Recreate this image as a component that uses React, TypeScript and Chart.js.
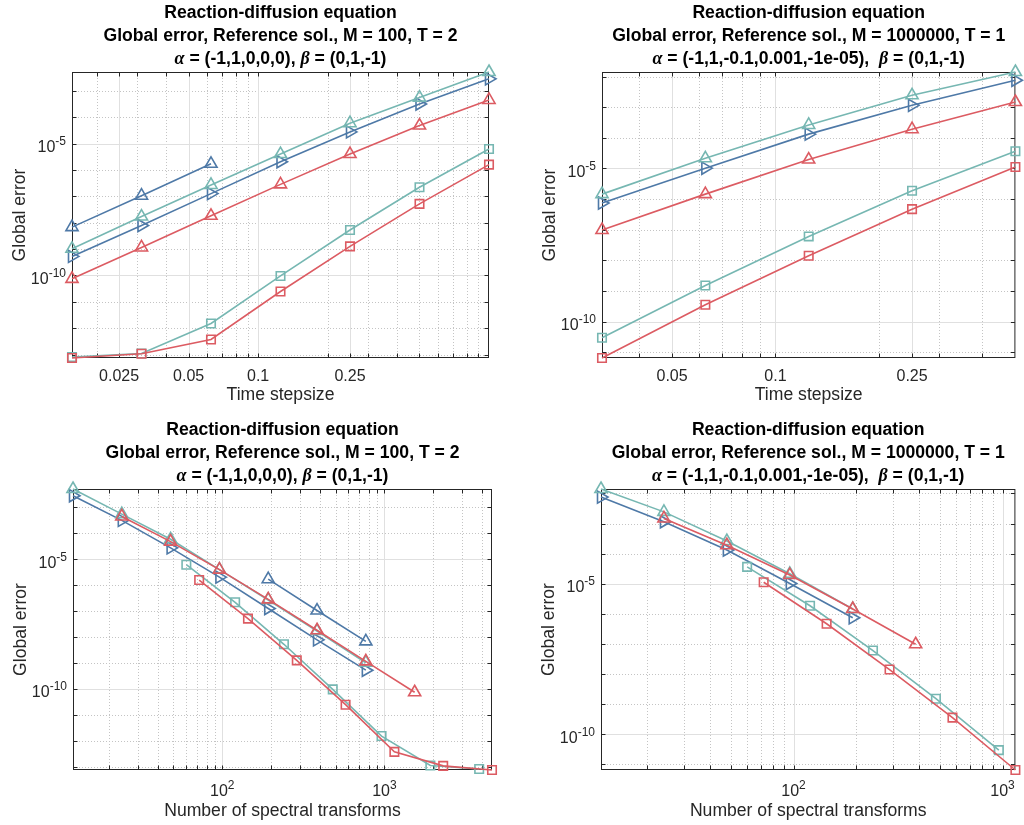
import React, { useEffect, useRef } from 'react';
import { Chart, registerables } from 'chart.js';

Chart.register(...registerables);

// ---------------- data ----------------
// time step sizes
const dtM100 = [0.015625, 0.03125, 0.0625, 0.125, 0.25, 0.5, 1];
const dtM100Short = [0.015625, 0.03125, 0.0625];
const dtM1e6 = [0.03125, 0.0625, 0.125, 0.25, 0.5];

// global errors, M = 100, T = 2 (ordered like dtM100)
const errM100TealTri = [1.02e-9, 1.7e-8, 2.69e-7, 3.98e-6, 5.89e-5, 5.5e-4, 5.13e-3];
const errM100BlueRight = [5.25e-10, 7.76e-9, 1.26e-7, 2.04e-6, 2.75e-5, 3.16e-4, 2.82e-3];
const errM100RedTri = [7.41e-11, 1.15e-9, 1.82e-8, 2.82e-7, 3.98e-6, 4.79e-5, 4.47e-4];
const errM100BlueUp = [6.76e-9, 1.05e-7, 1.7e-6];
const errM100TealSq = [8.13e-14, 1.1e-13, 1.51e-12, 9.55e-11, 5.25e-9, 2.19e-7, 6.17e-6];
const errM100RedSq = [7.41e-14, 1.07e-13, 3.72e-13, 2.45e-11, 1.26e-9, 5.13e-8, 1.58e-6];

// global errors, M = 1000000, T = 1 (ordered like dtM1e6)
const errM1e6TealTri = [1.45e-6, 2.14e-5, 2.63e-4, 2.45e-3, 1.41e-2];
const errM1e6BlueRight = [7.41e-7, 1.02e-5, 1.32e-4, 1.15e-3, 7.59e-3];
const errM1e6RedTri = [9.77e-8, 1.45e-6, 1.95e-5, 1.91e-4, 1.48e-3];
const errM1e6TealSq = [2.95e-11, 1.51e-9, 6.03e-8, 1.86e-6, 3.63e-5];
const errM1e6RedSq = [6.46e-12, 3.55e-10, 1.41e-8, 4.68e-7, 1.12e-5];

// number of spectral transforms, M = 100 (same order as the errors)
const nM100TealTri = [768, 384, 192, 96, 48, 24, 12];
const nM100BlueRight = [768, 384, 192, 96, 48, 24, 12];
const nM100RedTri = [1536, 768, 384, 192, 96, 48, 24];
const nM100BlueUp = [768, 384, 192];
const nM100TealSq = [3840, 1920, 960, 480, 240, 120, 60];
const nM100RedSq = [4608, 2304, 1152, 576, 288, 144, 72];

// number of spectral transforms, M = 1000000
const nM1e6TealTri = [192, 96, 48, 24, 12];
const nM1e6BlueRight = [192, 96, 48, 24, 12];
const nM1e6RedTri = [384, 192, 96, 48, 24];
const nM1e6TealSq = [960, 480, 240, 120, 60];
const nM1e6RedSq = [1152, 576, 288, 144, 72];

// tick labels
const dtTickValuesM100 = [0.025, 0.05, 0.1, 0.25];
const dtTickLabelsM100 = ['0.025', '0.05', '0.1', '0.25'];
const dtTickValuesM1e6 = [0.05, 0.1, 0.25];
const dtTickLabelsM1e6 = ['0.05', '0.1', '0.25'];
const errTickValues = [1e-10, 1e-5];
const errTickExps = ['-10', '-5'];
const nTickValues = [100, 1000];
const nTickExps = ['2', '3'];

// texts
const titleLine1 = 'Reaction-diffusion equation';
const titleLine2M100 = 'Global error, Reference sol., M = 100, T = 2';
const titleLine2M1e6 = 'Global error, Reference sol., M = 1000000, T = 1';
const alphaM100 = ' = (-1,1,0,0,0), ';
const alphaM1e6 = ' = (-1,1,-0.1,0.001,-1e-05),  ';
const betaText = ' = (0,1,-1)';
const xLabelDt = 'Time stepsize';
const xLabelN = 'Number of spectral transforms';
const yLabel = 'Global error';

// ---------------- styles ----------------
const TEAL = '#76b7b2';
const RED = '#dc5b62';
const BLUE = '#4e79a7';
const SANS = '"Liberation Sans", Arial, Helvetica, sans-serif';
const SERIF = '"Liberation Serif", "Times New Roman", serif';
const INK = '#262626';

type Marker = 'tri' | 'right' | 'square';
interface Series { xs: number[]; ys: number[]; color: string; marker: Marker }
interface Tick { value: number; label?: string; exp?: string }
interface PanelSpec {
  left: number; top: number; w: number; h: number;
  pad: { left: number; top: number; right: number; bottom: number };
  series: Series[];
  xTicks: Tick[]; yTicks: Tick[];
  xLabel: string; xLabelOffset: number;
  line2: string; alphaText: string;
}

function makeDataset(s: Series) {
  const isTri = s.marker !== 'square';
  return {
    data: s.xs.map((x, i) => ({ x, y: s.ys[i] })),
    showLine: true,
    borderColor: s.color,
    backgroundColor: 'rgba(0,0,0,0)',
    borderWidth: 1.6,
    pointStyle: isTri ? 'triangle' : 'rect',
    pointRotation: s.marker === 'right' ? 90 : 0,
    pointRadius: isTri ? 7 : 6,
    pointBorderWidth: 1.6,
    pointBorderColor: s.color,
    pointBackgroundColor: 'rgba(0,0,0,0)',
    clip: false as any,
    tension: 0,
  };
}

function minorValues(min: number, max: number, full: boolean): number[] {
  const out: number[] = [];
  const ks = full ? [1, 2, 3, 4, 5, 6, 7, 8, 9] : [1];
  for (let e = Math.floor(Math.log10(min)); e <= Math.ceil(Math.log10(max)); e++) {
    for (const k of ks) {
      const v = k * Math.pow(10, e);
      if (v >= min * (1 - 1e-9) && v <= max * (1 + 1e-9)) out.push(v);
    }
  }
  return out;
}

function drawPow(ctx: CanvasRenderingContext2D, exp: string, x: number, yBase: number, align: 'center' | 'right') {
  ctx.font = `16px ${SANS}`;
  const wb = ctx.measureText('10').width;
  ctx.font = `12px ${SANS}`;
  const we = ctx.measureText(exp).width;
  const total = wb + we;
  const sx = align === 'center' ? x - total / 2 : x - total;
  ctx.textAlign = 'left';
  ctx.textBaseline = 'alphabetic';
  ctx.font = `16px ${SANS}`;
  ctx.fillText('10', sx, yBase);
  ctx.font = `12px ${SANS}`;
  ctx.fillText(exp, sx + wb, yBase - 7);
}

function axesPlugin(p: PanelSpec) {
  return {
    id: 'matlabAxes',
    beforeDatasetsDraw(chart: any) {
      const ctx: CanvasRenderingContext2D = chart.ctx;
      const { left: L, right: R, top: T, bottom: B } = chart.chartArea;
      const sx = chart.scales.x;
      const sy = chart.scales.y;
      const xMaj = p.xTicks.map((t) => t.value);
      const yMaj = p.yTicks.map((t) => t.value);
      const notMajor = (arr: number[]) => (v: number) => !arr.some((m) => Math.abs(m - v) / m < 1e-6);
      const xMin = minorValues(sx.min, sx.max, true).filter(notMajor(xMaj));
      const yMin = minorValues(sy.min, sy.max, false).filter(notMajor(yMaj));
      const xp = (v: number) => Math.round(sx.getPixelForValue(v)) + 0.5;
      const yp = (v: number) => Math.round(sy.getPixelForValue(v)) + 0.5;
      ctx.save();
      ctx.lineWidth = 1;
      // minor dotted grid
      ctx.strokeStyle = '#c4c4c4';
      ctx.setLineDash([1, 2]);
      ctx.beginPath();
      for (const v of xMin) {
        const px = xp(v);
        if (px <= L + 1.5 || px >= R - 1.5) continue;
        ctx.moveTo(px, T); ctx.lineTo(px, B);
      }
      for (const v of yMin) {
        const py = yp(v);
        if (py <= T + 1.5 || py >= B - 1.5) continue;
        ctx.moveTo(L, py); ctx.lineTo(R, py);
      }
      ctx.stroke();
      // major solid grid
      ctx.setLineDash([]);
      ctx.strokeStyle = '#e0e0e0';
      ctx.beginPath();
      for (const v of xMaj) { const px = xp(v); ctx.moveTo(px, T); ctx.lineTo(px, B); }
      for (const v of yMaj) { const py = yp(v); ctx.moveTo(L, py); ctx.lineTo(R, py); }
      ctx.stroke();
      // ticks
      ctx.strokeStyle = INK;
      ctx.beginPath();
      for (const v of [...xMaj, ...xMin]) {
        const px = xp(v);
        if (px <= L + 1 || px >= R - 1) continue;
        ctx.moveTo(px, B - 0.5); ctx.lineTo(px, B - 4.5);
        ctx.moveTo(px, T + 0.5); ctx.lineTo(px, T + 4.5);
      }
      for (const v of [...yMaj, ...yMin]) {
        const py = yp(v);
        if (py <= T + 1 || py >= B - 1) continue;
        ctx.moveTo(L + 0.5, py); ctx.lineTo(L + 4.5, py);
        ctx.moveTo(R - 0.5, py); ctx.lineTo(R - 4.5, py);
      }
      ctx.stroke();
      // box
      ctx.strokeRect(L + 0.5, T + 0.5, R - L - 1, B - T - 1);
      ctx.restore();
    },
    afterDraw(chart: any) {
      const ctx: CanvasRenderingContext2D = chart.ctx;
      const { left: L, right: R, top: T, bottom: B } = chart.chartArea;
      const sx = chart.scales.x;
      const sy = chart.scales.y;
      ctx.save();
      ctx.fillStyle = INK;
      // x tick labels
      for (const t of p.xTicks) {
        const px = sx.getPixelForValue(t.value);
        if (t.exp) {
          drawPow(ctx, t.exp, px, B + 26, 'center');
        } else {
          ctx.font = `16px ${SANS}`;
          ctx.textAlign = 'center';
          ctx.textBaseline = 'alphabetic';
          ctx.fillText(t.label || '', px, B + 23);
        }
      }
      // y tick labels
      for (const t of p.yTicks) {
        const py = sy.getPixelForValue(t.value);
        drawPow(ctx, t.exp || '', L - 6, py + 8.5, 'right');
      }
      // axis labels
      ctx.font = `17.6px ${SANS}`;
      ctx.textAlign = 'center';
      ctx.textBaseline = 'alphabetic';
      ctx.fillText(p.xLabel, (L + R) / 2, B + p.xLabelOffset);
      ctx.save();
      ctx.translate(L - 47.5, (T + B) / 2);
      ctx.rotate(-Math.PI / 2);
      ctx.fillText(yLabel, 0, 0);
      ctx.restore();
      // title
      const cx = (L + R) / 2;
      ctx.fillStyle = '#000';
      ctx.textBaseline = 'middle';
      ctx.textAlign = 'center';
      ctx.font = `bold 17.6px ${SANS}`;
      ctx.fillText(titleLine1, cx, T - 59);
      ctx.fillText(p.line2, cx, T - 36);
      const segs: [string, string][] = [
        ['\u03b1', `italic bold 18px ${SERIF}`],
        [p.alphaText, `bold 17.6px ${SANS}`],
        ['\u03b2', `italic bold 18px ${SERIF}`],
        [betaText, `bold 17.6px ${SANS}`],
      ];
      let total = 0;
      const widths = segs.map(([s, f]) => { ctx.font = f; const w = ctx.measureText(s).width; total += w; return w; });
      let x = cx - total / 2;
      ctx.textAlign = 'left';
      segs.forEach(([s, f], i) => {
        ctx.font = f;
        ctx.fillText(s, x, T - 13);
        x += widths[i];
      });
      ctx.restore();
    },
  };
}

function Panel({ spec }: { spec: PanelSpec }) {
  const ref = useRef<HTMLCanvasElement>(null);
  useEffect(() => {
    const allX = spec.series.flatMap((s) => s.xs);
    const allY = spec.series.flatMap((s) => s.ys);
    const chart = new Chart(ref.current as HTMLCanvasElement, {
      type: 'scatter',
      data: { datasets: spec.series.map(makeDataset) as any },
      options: {
        animation: false,
        responsive: false,
        maintainAspectRatio: false,
        events: [],
        layout: { padding: spec.pad },
        plugins: { legend: { display: false }, title: { display: false }, tooltip: { enabled: false } },
        scales: {
          x: { type: 'logarithmic', display: false, bounds: 'data', min: Math.min(...allX), max: Math.max(...allX) },
          y: { type: 'logarithmic', display: false, bounds: 'data', min: Math.min(...allY), max: Math.max(...allY) },
        },
      } as any,
      plugins: [axesPlugin(spec) as any],
    });
    return () => chart.destroy();
  }, [spec]);
  return (
    <canvas
      ref={ref}
      width={spec.w}
      height={spec.h}
      style={{ position: 'absolute', left: spec.left, top: spec.top, width: spec.w, height: spec.h }}
    />
  );
}

const yTicksErr: Tick[] = errTickValues.map((v, i) => ({ value: v, exp: errTickExps[i] }));
const xTicksN: Tick[] = nTickValues.map((v, i) => ({ value: v, exp: nTickExps[i] }));

const panels: PanelSpec[] = [
  {
    left: 0, top: 0, w: 512, h: 412,
    pad: { left: 72, top: 72, right: 23, bottom: 54 },
    series: [
      { xs: dtM100, ys: errM100RedSq, color: RED, marker: 'square' },
      { xs: dtM100, ys: errM100RedTri, color: RED, marker: 'tri' },
      { xs: dtM100, ys: errM100TealSq, color: TEAL, marker: 'square' },
      { xs: dtM100, ys: errM100TealTri, color: TEAL, marker: 'tri' },
      { xs: dtM100, ys: errM100BlueRight, color: BLUE, marker: 'right' },
      { xs: dtM100Short, ys: errM100BlueUp, color: BLUE, marker: 'tri' },
    ],
    xTicks: dtTickValuesM100.map((v, i) => ({ value: v, label: dtTickLabelsM100[i] })),
    yTicks: yTicksErr,
    xLabel: xLabelDt, xLabelOffset: 42,
    line2: titleLine2M100, alphaText: alphaM100,
  },
  {
    left: 512, top: 0, w: 512, h: 412,
    pad: { left: 90, top: 72, right: 5, bottom: 54 },
    series: [
      { xs: dtM1e6, ys: errM1e6RedSq, color: RED, marker: 'square' },
      { xs: dtM1e6, ys: errM1e6RedTri, color: RED, marker: 'tri' },
      { xs: dtM1e6, ys: errM1e6TealSq, color: TEAL, marker: 'square' },
      { xs: dtM1e6, ys: errM1e6TealTri, color: TEAL, marker: 'tri' },
      { xs: dtM1e6, ys: errM1e6BlueRight, color: BLUE, marker: 'right' },
    ],
    xTicks: dtTickValuesM1e6.map((v, i) => ({ value: v, label: dtTickLabelsM1e6[i] })),
    yTicks: yTicksErr,
    xLabel: xLabelDt, xLabelOffset: 42,
    line2: titleLine2M1e6, alphaText: alphaM1e6,
  },
  {
    left: 0, top: 412, w: 512, h: 413,
    pad: { left: 73, top: 77, right: 20, bottom: 55 },
    series: [
      { xs: nM100RedSq, ys: errM100RedSq, color: RED, marker: 'square' },
      { xs: nM100RedTri, ys: errM100RedTri, color: RED, marker: 'tri' },
      { xs: nM100TealSq, ys: errM100TealSq, color: TEAL, marker: 'square' },
      { xs: nM100TealTri, ys: errM100TealTri, color: TEAL, marker: 'tri' },
      { xs: nM100BlueRight, ys: errM100BlueRight, color: BLUE, marker: 'right' },
      { xs: nM100BlueUp, ys: errM100BlueUp, color: BLUE, marker: 'tri' },
    ],
    xTicks: xTicksN,
    yTicks: yTicksErr,
    xLabel: xLabelN, xLabelOffset: 46,
    line2: titleLine2M100, alphaText: alphaM100,
  },
  {
    left: 512, top: 412, w: 512, h: 413,
    pad: { left: 89, top: 77, right: 5, bottom: 55 },
    series: [
      { xs: nM1e6RedSq, ys: errM1e6RedSq, color: RED, marker: 'square' },
      { xs: nM1e6RedTri, ys: errM1e6RedTri, color: RED, marker: 'tri' },
      { xs: nM1e6TealSq, ys: errM1e6TealSq, color: TEAL, marker: 'square' },
      { xs: nM1e6TealTri, ys: errM1e6TealTri, color: TEAL, marker: 'tri' },
      { xs: nM1e6BlueRight, ys: errM1e6BlueRight, color: BLUE, marker: 'right' },
    ],
    xTicks: xTicksN,
    yTicks: yTicksErr,
    xLabel: xLabelN, xLabelOffset: 46,
    line2: titleLine2M1e6, alphaText: alphaM1e6,
  },
];

export default function App() {
  return (
    <div style={{ position: 'absolute', left: 0, top: 0, width: 1024, height: 825, background: '#fff', overflow: 'hidden' }}>
      {panels.map((p, i) => (
        <Panel key={i} spec={p} />
      ))}
    </div>
  );
}
